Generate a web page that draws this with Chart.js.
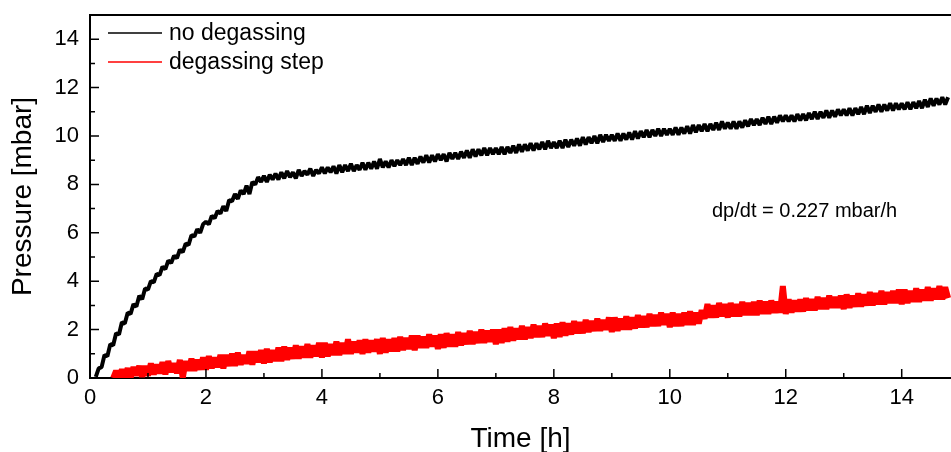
<!DOCTYPE html>
<html>
<head>
<meta charset="utf-8">
<title>Pressure vs time</title>
<script src="https://cdn.jsdelivr.net/npm/chart.js@4.4.1/dist/chart.umd.min.js"></script>
<style>
  body { margin: 0; background: #fff; }
  #wrap { width: 951px; height: 452px; }
</style>
</head>
<body>
<div id="wrap"><canvas id="PressureGraph" width="951" height="452"></canvas></div>
<script>
// time axis [h], one sample every 0.05 h (one row per hour)
const hours = [
  0.00,0.05,0.10,0.15,0.20,0.25,0.30,0.35,0.40,0.45,0.50,0.55,0.60,0.65,0.70,0.75,0.80,0.85,0.90,0.95,
  1.00,1.05,1.10,1.15,1.20,1.25,1.30,1.35,1.40,1.45,1.50,1.55,1.60,1.65,1.70,1.75,1.80,1.85,1.90,1.95,
  2.00,2.05,2.10,2.15,2.20,2.25,2.30,2.35,2.40,2.45,2.50,2.55,2.60,2.65,2.70,2.75,2.80,2.85,2.90,2.95,
  3.00,3.05,3.10,3.15,3.20,3.25,3.30,3.35,3.40,3.45,3.50,3.55,3.60,3.65,3.70,3.75,3.80,3.85,3.90,3.95,
  4.00,4.05,4.10,4.15,4.20,4.25,4.30,4.35,4.40,4.45,4.50,4.55,4.60,4.65,4.70,4.75,4.80,4.85,4.90,4.95,
  5.00,5.05,5.10,5.15,5.20,5.25,5.30,5.35,5.40,5.45,5.50,5.55,5.60,5.65,5.70,5.75,5.80,5.85,5.90,5.95,
  6.00,6.05,6.10,6.15,6.20,6.25,6.30,6.35,6.40,6.45,6.50,6.55,6.60,6.65,6.70,6.75,6.80,6.85,6.90,6.95,
  7.00,7.05,7.10,7.15,7.20,7.25,7.30,7.35,7.40,7.45,7.50,7.55,7.60,7.65,7.70,7.75,7.80,7.85,7.90,7.95,
  8.00,8.05,8.10,8.15,8.20,8.25,8.30,8.35,8.40,8.45,8.50,8.55,8.60,8.65,8.70,8.75,8.80,8.85,8.90,8.95,
  9.00,9.05,9.10,9.15,9.20,9.25,9.30,9.35,9.40,9.45,9.50,9.55,9.60,9.65,9.70,9.75,9.80,9.85,9.90,9.95,
  10.00,10.05,10.10,10.15,10.20,10.25,10.30,10.35,10.40,10.45,10.50,10.55,10.60,10.65,10.70,10.75,10.80,10.85,10.90,10.95,
  11.00,11.05,11.10,11.15,11.20,11.25,11.30,11.35,11.40,11.45,11.50,11.55,11.60,11.65,11.70,11.75,11.80,11.85,11.90,11.95,
  12.00,12.05,12.10,12.15,12.20,12.25,12.30,12.35,12.40,12.45,12.50,12.55,12.60,12.65,12.70,12.75,12.80,12.85,12.90,12.95,
  13.00,13.05,13.10,13.15,13.20,13.25,13.30,13.35,13.40,13.45,13.50,13.55,13.60,13.65,13.70,13.75,13.80,13.85,13.90,13.95,
  14.00,14.05,14.10,14.15,14.20,14.25,14.30,14.35,14.40,14.45,14.50,14.55,14.60,14.65,14.70,14.75,14.80
];

// pressure [mbar], no degassing
const noDegassing = [
  null,null,0.05,0.4,0.45,0.95,0.9,1.4,1.35,1.85,1.8,2.3,2.25,2.7,2.65,3.05,2.95,3.4,3.25,3.7,
  3.65,4.0,3.95,4.3,4.25,4.6,4.5,4.85,4.75,5.05,4.95,5.3,5.2,5.55,5.5,5.9,5.85,6.15,6.0,6.35,
  6.45,6.35,6.7,6.6,6.9,6.8,7.1,6.9,7.35,7.3,7.6,7.4,7.75,7.6,7.95,7.6,8.1,8.0,8.3,8.1,
  8.35,8.1,8.4,8.2,8.45,8.2,8.5,8.25,8.55,8.3,8.5,8.25,8.6,8.35,8.55,8.4,8.65,8.35,8.6,8.45,
  8.7,8.45,8.7,8.5,8.75,8.45,8.8,8.5,8.8,8.55,8.85,8.55,8.8,8.6,8.9,8.6,8.9,8.65,8.95,8.65,
  9.05,8.7,8.95,8.7,9.0,8.75,9.0,8.8,9.05,8.8,9.1,8.8,9.1,8.85,9.15,8.9,9.2,8.9,9.2,8.95,
  9.25,9.0,9.25,8.95,9.3,9.05,9.3,9.05,9.35,9.1,9.4,9.1,9.45,9.15,9.45,9.2,9.5,9.2,9.5,9.25,
  9.5,9.25,9.55,9.25,9.55,9.3,9.6,9.3,9.65,9.35,9.65,9.4,9.7,9.4,9.7,9.45,9.75,9.45,9.8,9.5,
  9.75,9.5,9.8,9.5,9.85,9.55,9.85,9.6,9.9,9.6,9.95,9.65,9.95,9.7,10.0,9.7,10.05,9.75,10.05,9.8,
  10.05,9.8,10.1,9.8,10.1,9.85,10.15,9.85,10.2,9.9,10.2,9.95,10.25,9.95,10.25,10.0,10.3,10.0,10.3,10.05,
  10.3,10.05,10.35,10.05,10.35,10.1,10.4,10.1,10.45,10.15,10.45,10.2,10.5,10.2,10.5,10.25,10.55,10.25,10.6,10.3,
  10.55,10.3,10.6,10.3,10.6,10.35,10.65,10.4,10.7,10.45,10.7,10.45,10.75,10.5,10.8,10.5,10.8,10.55,10.85,10.6,
  10.85,10.6,10.85,10.6,10.9,10.65,10.9,10.65,10.95,10.7,11.0,10.7,11.0,10.75,11.05,10.75,11.05,10.8,11.1,10.85,
  11.1,10.85,11.15,10.85,11.15,10.9,11.2,10.9,11.25,10.95,11.25,11.0,11.3,11.0,11.3,11.05,11.35,11.05,11.35,11.1,
  11.35,11.1,11.4,11.1,11.4,11.15,11.45,11.15,11.5,11.2,11.55,11.25,11.55,11.3,11.6,11.3,11.6
];

// pressure [mbar], with degassing step
const degassingStep = [
  null,null,null,null,null,null,null,null,0.0,0.3,0.0,0.35,0.05,0.4,0.0,0.45,0.1,0.5,0.05,0.5,
  0.1,0.6,0.15,0.55,0.2,0.65,0.15,0.7,0.25,0.6,0.2,0.75,0.0,0.7,0.3,0.8,0.3,0.75,0.35,0.85,
  0.35,0.9,0.4,0.85,0.45,0.95,0.4,0.95,0.5,1.0,0.5,1.05,0.55,0.95,0.6,1.1,0.55,1.1,0.65,1.15,
  0.6,1.2,0.65,1.15,0.7,1.25,0.7,1.3,0.75,1.25,0.8,1.35,0.8,1.3,0.85,1.4,0.85,1.35,0.9,1.45,
  0.85,1.45,0.9,1.4,0.95,1.5,0.95,1.45,1.0,1.6,1.0,1.5,1.05,1.55,1.0,1.6,1.05,1.55,1.1,1.6,
  1.0,1.65,1.05,1.6,1.1,1.65,1.1,1.7,1.15,1.65,1.2,1.75,1.15,1.75,1.25,1.7,1.25,1.8,1.3,1.75,
  1.2,1.8,1.25,1.85,1.3,1.8,1.3,1.9,1.35,1.85,1.4,1.95,1.4,1.9,1.45,2.0,1.45,1.95,1.5,2.0,
  1.4,2.0,1.45,2.05,1.5,2.1,1.55,2.05,1.6,2.15,1.6,2.1,1.65,2.2,1.7,2.15,1.7,2.25,1.75,2.2,
  1.65,2.25,1.7,2.3,1.75,2.25,1.8,2.35,1.85,2.3,1.85,2.4,1.9,2.35,1.95,2.45,1.95,2.4,2.0,2.5,
  1.9,2.5,1.95,2.45,2.0,2.55,2.0,2.5,2.05,2.6,2.1,2.55,2.1,2.65,2.15,2.6,2.15,2.7,2.2,2.65,
  2.1,2.7,2.15,2.65,2.15,2.7,2.2,2.75,2.2,2.7,2.25,2.8,2.45,3.05,2.5,3.0,2.5,3.1,2.55,3.05,
  2.5,3.1,2.55,3.05,2.55,3.15,2.6,3.1,2.6,3.15,2.6,3.2,2.65,3.15,2.65,3.2,2.7,3.15,2.7,3.8,
  2.65,3.25,2.7,3.2,2.75,3.25,2.75,3.3,2.8,3.25,2.8,3.35,2.85,3.3,2.85,3.4,2.9,3.35,2.9,3.4,
  2.85,3.45,2.9,3.4,2.95,3.5,2.95,3.45,3.0,3.55,3.0,3.5,3.05,3.6,3.05,3.55,3.1,3.6,3.1,3.65,
  3.05,3.65,3.1,3.6,3.15,3.7,3.15,3.65,3.2,3.75,3.2,3.7,3.25,3.8,3.25,3.75,3.3
];

const seriesLabels = ['no degassing', 'degassing step'];
const seriesColors = ['#000000', '#ff0000'];
const xTicks = [0, 2, 4, 6, 8, 10, 12, 14];
const yTicks = [0, 2, 4, 6, 8, 10, 12, 14];
const note = 'dp/dt = 0.227 mbar/h';

const FONT = '"Liberation Sans", Arial, sans-serif';

function points(vals) {
  return hours.map((t, i) => ({ x: t, y: vals[i] }));
}

function noPadding(s) {
  s.paddingTop = 0;
  s.paddingBottom = 0;
  s.paddingLeft = 0;
  s.paddingRight = 0;
}

// inward major/minor ticks, top frame line, legend and note
const framePlugin = {
  id: 'frame',
  afterDraw(chart) {
    const { ctx, chartArea: a, scales: { x, y } } = chart;
    ctx.save();
    ctx.strokeStyle = '#000';
    ctx.lineWidth = 2;
    ctx.beginPath();
    ctx.moveTo(a.left - 1, a.top);
    ctx.lineTo(a.right, a.top);
    ctx.stroke();

    ctx.lineWidth = 1.5;
    ctx.beginPath();
    for (let v = 1; v <= 14; v++) {
      const len = v % 2 === 0 ? 9 : 5;
      const px = x.getPixelForValue(v);
      ctx.moveTo(px, a.bottom);
      ctx.lineTo(px, a.bottom - len);
      const py = y.getPixelForValue(v);
      ctx.moveTo(a.left, py);
      ctx.lineTo(a.left + len, py);
    }
    ctx.stroke();

    // legend
    ctx.font = '23px ' + FONT;
    ctx.textBaseline = 'middle';
    ctx.textAlign = 'left';
    const rows = [33, 62];
    chart.data.datasets.forEach((ds, i) => {
      ctx.strokeStyle = ds.borderColor;
      ctx.lineWidth = 1.5;
      ctx.beginPath();
      ctx.moveTo(108, rows[i]);
      ctx.lineTo(162, rows[i]);
      ctx.stroke();
      ctx.fillStyle = '#000';
      ctx.fillText(ds.label, 169, rows[i] + 1);
    });

    ctx.font = '20px ' + FONT;
    ctx.textBaseline = 'alphabetic';
    ctx.fillText(note, 712, 217);
    ctx.restore();
  }
};

const data = {
  datasets: [
    { label: seriesLabels[0], data: points(noDegassing), borderColor: seriesColors[0], borderWidth: 4 },
    { label: seriesLabels[1], data: points(degassingStep), borderColor: seriesColors[1], borderWidth: 6 }
  ]
};

const config = {
  type: 'line',
  data,
  options: {
    responsive: false,
    animation: false,
    layout: { padding: { top: 15, right: 0, left: 0, bottom: 0 } },
    elements: { point: { radius: 0 }, line: { tension: 0, borderJoinStyle: 'bevel' } },
    plugins: { legend: { display: false }, tooltip: { enabled: false } },
    scales: {
      x: {
        type: 'linear',
        min: 0,
        max: 14.85,
        afterFit(s) { s.height = 74; noPadding(s); },
        afterBuildTicks(s) { s.ticks = xTicks.map(v => ({ value: v })); },
        ticks: { color: '#000', padding: 7, font: { family: FONT, size: 22 } },
        grid: { display: false, drawTicks: false },
        border: { display: true, color: '#000', width: 2 },
        title: {
          display: true, text: 'Time [h]', color: '#000',
          font: { family: FONT, size: 28, lineHeight: 0.93 }, padding: 0
        }
      },
      y: {
        type: 'linear',
        min: 0,
        max: 15,
        afterFit(s) { s.width = 90; noPadding(s); },
        afterBuildTicks(s) { s.ticks = yTicks.map(v => ({ value: v })); },
        ticks: { color: '#000', padding: 11, font: { family: FONT, size: 22 } },
        grid: { display: false, drawTicks: false },
        border: { display: true, color: '#000', width: 2 },
        title: {
          display: true, text: 'Pressure [mbar]', color: '#000',
          font: { family: FONT, size: 28 }, padding: { top: 6, bottom: 0 }
        }
      }
    }
  },
  plugins: [framePlugin]
};

const myChart = new Chart(document.getElementById('PressureGraph'), config);
</script>
</body>
</html>
